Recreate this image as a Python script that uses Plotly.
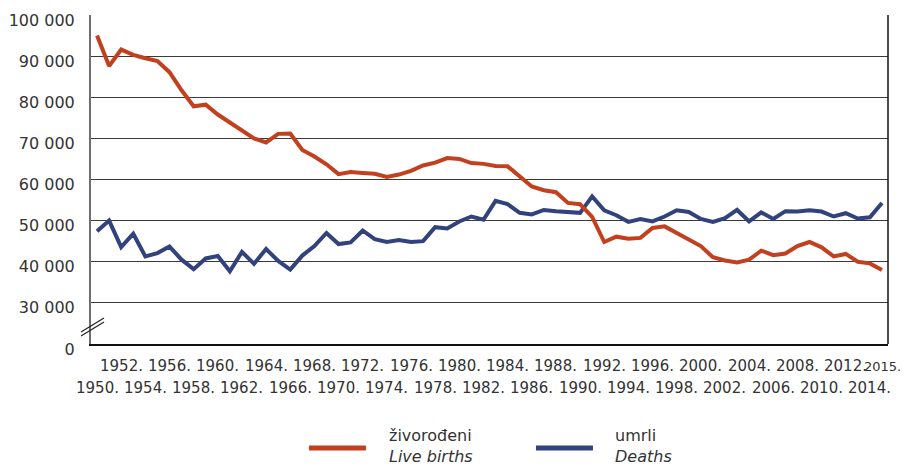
import plotly.graph_objects as go

years = list(range(1950, 2016))

live_births = [
    95000, 87600, 91600, 90300, 89500, 88800, 86100, 81700, 77800, 78200,
    75800, 73800, 72000, 70000, 69000, 71100, 71200, 67200, 65600, 63700,
    61300, 61800, 61600, 61400, 60600, 61200, 62100, 63400, 64100, 65200,
    65000, 64000, 63800, 63300, 63200, 60900, 58300, 57400, 56900, 54300,
    54000, 50900, 44800, 46100, 45600, 45800, 48200, 48600, 47000, 45200,
    43800, 41100, 40300, 39800, 40500, 42700, 41600, 42000, 43800, 44800,
    43500, 41300, 41900, 40000, 39600, 38000,
]

deaths = [
    47400, 50000, 43550, 46800, 41300, 42100, 43700, 40500, 38200, 40800,
    41400, 37700, 42400, 39500, 43100, 40200, 38100, 41500, 43800, 47000,
    44300, 44700, 47600, 45500, 44800, 45300, 44800, 45000, 48400, 48100,
    49800, 51000, 50200, 54800, 54000, 51900, 51500, 52600, 52300, 52200,
    51900, 55900, 52500, 51300, 49700, 50400, 49800, 51000, 52500, 52100,
    50400, 49700, 50600, 52600, 49800, 52000, 50400, 52300, 52200, 52500,
    52200, 51000, 51800, 50500, 50800, 54300,
]

series_names = ["živorođeni", "umrli"]
series_names_en = ["Live births", "Deaths"]
series_colors = ["#C3401F", "#31427C"]

y_tick_values = [20000, 30000, 40000, 50000, 60000, 70000, 80000, 90000, 100000]
y_tick_labels = ["0", "30 000", "40 000", "50 000", "60 000", "70 000",
                 "80 000", "90 000", "100 000"]

x_labels_top = [1952, 1956, 1960, 1964, 1968, 1972, 1976, 1980, 1984, 1988,
                1992, 1996, 2000, 2004, 2008, 2012, 2015]
x_labels_bottom = [1950, 1954, 1958, 1962, 1966, 1970, 1974, 1978, 1982, 1986,
                   1990, 1994, 1998, 2002, 2006, 2010, 2014]

FONT = "DejaVu Sans"
TXT = "#333333"

fig = go.Figure()
fig.add_trace(go.Scatter(x=years, y=deaths, mode="lines",
                         line=dict(color=series_colors[1], width=4),
                         name=series_names[1], showlegend=False, hoverinfo="skip"))
fig.add_trace(go.Scatter(x=years, y=live_births, mode="lines",
                         line=dict(color=series_colors[0], width=4),
                         name=series_names[0], showlegend=False, hoverinfo="skip"))

annotations = []
last_year = years[-1]
for yr in x_labels_top:
    if yr == last_year:
        annotations.append(dict(x=yr, xref="x", y=-0.067, yref="paper",
                                text=f"{yr}.", showarrow=False, xanchor="right",
                                xshift=21, yanchor="middle",
                                font=dict(family=FONT, size=13, color=TXT)))
    else:
        annotations.append(dict(x=yr, xref="x", y=-0.067, yref="paper",
                                text=f"{yr}.", showarrow=False, xanchor="center",
                                yanchor="middle", font=dict(family=FONT, size=15, color=TXT)))
for yr in x_labels_bottom:
    annotations.append(dict(x=yr, xref="x", y=-0.135, yref="paper",
                            text=f"{yr}.", showarrow=False, xanchor="center",
                            yanchor="middle", font=dict(family=FONT, size=15, color=TXT)))

# manual legend
leg_x = [0.3714, 0.6550]
line_x = [(0.2735, 0.3450), (0.5583, 0.6298)]
shapes = []
for i in range(2):
    annotations.append(dict(x=leg_x[i], xref="paper", y=-0.309, yref="paper",
                            text=f"{series_names[i]}<br><i>{series_names_en[i]}</i>",
                            showarrow=False, xanchor="left", yanchor="middle", align="left",
                            font=dict(family=FONT, size=16, color=TXT)))
    shapes.append(dict(type="line", xref="paper", yref="paper",
                       x0=line_x[i][0], x1=line_x[i][1], y0=-0.316, y1=-0.316,
                       line=dict(color=series_colors[i], width=5)))

# right border
shapes.append(dict(type="line", xref="paper", yref="paper", x0=1, x1=1, y0=0, y1=1,
                   line=dict(color="#111111", width=1.5)))
# axis break marks
for dy in (0, 4):
    shapes.append(dict(type="line", xref="paper", yref="paper",
                       x0=(81 - 91) / 797, x1=(104 - 91) / 797,
                       y0=(344 - (332 + dy)) / 329, y1=(344 - (318 + dy)) / 329,
                       line=dict(color="#222222", width=1.2)))

fig.update_layout(
    width=904, height=467,
    margin=dict(l=91, r=16, t=15, b=123),
    paper_bgcolor="white", plot_bgcolor="white",
    showlegend=False,
    hovermode=False,
    annotations=annotations,
    shapes=shapes,
    xaxis=dict(range=[1949.5, 2015.5], showgrid=False, zeroline=False,
               showticklabels=False, ticks="", showline=True,
               linecolor="#111111", linewidth=1.5, automargin=False),
    yaxis=dict(range=[19995, 100005], tickvals=y_tick_values, ticktext=y_tick_labels,
               showgrid=True, gridcolor="#3a3a3a", gridwidth=1, zeroline=False,
               showline=True, linecolor="#6e6e6e", linewidth=2, ticks="",
               ticklabelstandoff=11, ticklabelshift=5,
               tickfont=dict(family=FONT, size=16, color=TXT), automargin=False),
)

fig.write_html("out.html", config={"displayModeBar": False},
               post_script="document.body.style.margin='0';")
